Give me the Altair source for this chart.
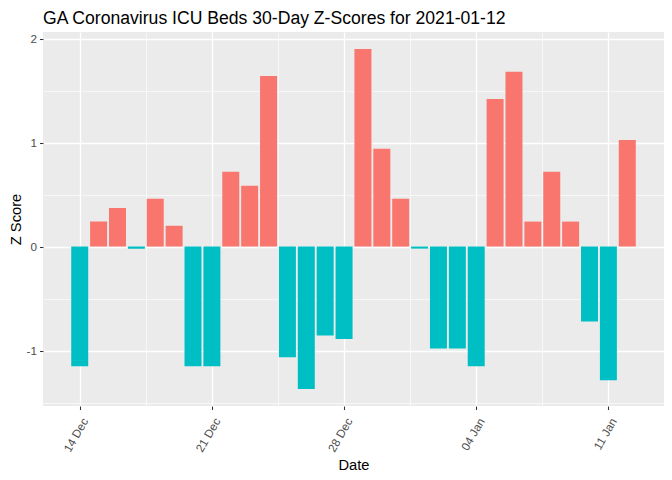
import altair as alt
import pandas as pd
import numpy as np

dates = [
    "2020-12-14", "2020-12-15", "2020-12-16", "2020-12-17", "2020-12-18",
    "2020-12-19", "2020-12-20", "2020-12-21", "2020-12-22", "2020-12-23",
    "2020-12-24", "2020-12-25", "2020-12-26", "2020-12-27", "2020-12-28",
    "2020-12-29", "2020-12-30", "2020-12-31", "2021-01-01", "2021-01-02",
    "2021-01-03", "2021-01-04", "2021-01-05", "2021-01-06", "2021-01-07",
    "2021-01-08", "2021-01-09", "2021-01-10", "2021-01-11", "2021-01-12",
]
z_scores = [
    -1.15, 0.24, 0.37, -0.02, 0.46,
    0.20, -1.15, -1.15, 0.72, 0.585,
    1.64, -1.065, -1.37, -0.855, -0.89,
    1.90, 0.94, 0.46, -0.02, -0.98,
    -0.98, -1.15, 1.42, 1.68, 0.24,
    0.72, 0.24, -0.72, -1.285, 1.025,
]
major_x = ["2020-12-14", "2020-12-21", "2020-12-28", "2021-01-04", "2021-01-11"]
major_y = [-1, 0, 1, 2]
minor_y = [-1.5, -0.5, 0.5, 1.5]

DAY = 86400000
EPOCH = pd.Timestamp("1970-01-01")


def to_ms(s):
    return (pd.Timestamp(s) - EPOCH) // pd.Timedelta(milliseconds=1)


df = pd.DataFrame({"date": dates, "z": z_scores})
ms = np.array([to_ms(d) for d in dates], dtype=float)
df["x1"] = ms - 0.45 * DAY
df["x2"] = ms + 0.45 * DAY
df["sign"] = np.where(df["z"] > 0, "pos", "neg")

xlo, xhi = df["x1"].min(), df["x2"].max()
xpad = 0.05 * (xhi - xlo)
ylo, yhi = min(df["z"].min(), 0), max(df["z"].max(), 0)
ypad = 0.05 * (yhi - ylo)

major_x_ms = [float(to_ms(d)) for d in major_x]
minor_x_ms = [v + 3.5 * DAY for v in major_x_ms[:-1]]

W, H = 621, 374

xscale = alt.Scale(type="utc", domain=[xlo - xpad, xhi + xpad])
yscale = alt.Scale(domain=[ylo - ypad, yhi + ypad], nice=False, zero=False)
color = alt.Color(
    "sign:N",
    scale=alt.Scale(domain=["pos", "neg"], range=["#F8766D", "#00BFC4"]),
    legend=None,
)

minor_x_axis = alt.Axis(
    orient="bottom", values=minor_x_ms, grid=True, gridColor="white",
    gridWidth=0.6, ticks=False, labels=False, domain=False, title=None,
)
minor_y_axis = alt.Axis(
    orient="left", values=minor_y, grid=True, gridColor="white",
    gridWidth=0.6, ticks=False, labels=False, domain=False, title=None,
)

major_x_axis = alt.Axis(
    orient="bottom", values=major_x_ms,
    labelExpr="utcFormat(datum.value, '%d %b')",
    labelAngle=300, labelAlign="right", labelBaseline="middle",
    labelOffset=5, labelPadding=9, labelFlush=False, labelOverlap=False,
    labelColor="#4D4D4D", labelFontSize=11.7,
    tickColor="#333333", tickSize=3.5, tickWidth=1.07,
    domain=False, grid=True, gridColor="white", gridWidth=1.3,
    title="Date", titleFontSize=14.7, titleFontWeight="normal",
    titleColor="black", titleX=W / 2, titleY=59, titleBaseline="middle",
    titleAlign="center",
)
major_y_axis = alt.Axis(
    orient="left", values=major_y, labelExpr="'' + datum.value",
    labelColor="#4D4D4D", labelFontSize=11.7, labelPadding=3,
    tickColor="#333333", tickSize=3.5, tickWidth=1.07,
    domain=False, grid=True, gridColor="white", gridWidth=1.3,
    title="Z Score", titleFontSize=14.7, titleFontWeight="normal",
    titleColor="black", titleX=-26.5, titleY=H / 2, titleBaseline="middle",
    titleAlign="center", titleAngle=270,
)

base = alt.Chart(df)

minor = base.mark_rect(opacity=0).encode(
    x=alt.X("x1:T", scale=xscale, axis=minor_x_axis),
    x2="x2:T",
    y=alt.Y("z:Q", scale=yscale, axis=minor_y_axis),
    y2=alt.datum(0),
)

bars = base.mark_rect().encode(
    x=alt.X("x1:T", scale=xscale, axis=major_x_axis),
    x2="x2:T",
    y=alt.Y("z:Q", scale=yscale, axis=major_y_axis),
    y2=alt.datum(0),
    color=color,
)

chart = (
    alt.layer(minor, bars)
    .resolve_axis(x="independent", y="independent")
    .properties(
        width=W,
        height=H,
        autosize=alt.AutoSizeParams(type="none"),
        padding={"left": 35, "top": 24, "right": 0, "bottom": 66},
        title=alt.Title(
            "GA Coronavirus ICU Beds 30-Day Z-Scores for 2021-01-12",
            anchor="start", frame="group", fontSize=17.6,
            fontWeight="normal", color="black", offset=4,
        ),
    )
    .configure(font="Liberation Sans")
    .configure_view(fill="#EBEBEB", strokeWidth=0)
)

chart.save("out.html", embed_options={"renderer": "svg", "actions": False})
